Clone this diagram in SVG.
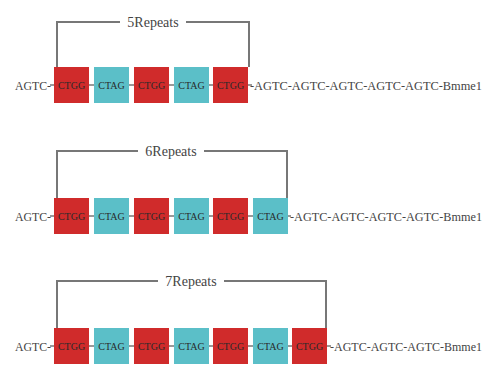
<svg xmlns="http://www.w3.org/2000/svg" width="492" height="368" viewBox="0 0 492 368">
  <style>
    .seq { font-family: "Liberation Serif", serif; font-size: 12.5px; fill: #444; }
    .lbl { font-family: "Liberation Serif", serif; font-size: 14px; fill: #444; text-anchor: middle; }
    .box-t { font-family: "Liberation Serif", serif; font-size: 10px; fill: #2a2a2a; text-anchor: middle; }
    .red { fill: #d02b2b; }
    .blue { fill: #5bbfc8; }
    .br { fill: none; stroke: #777; stroke-width: 2; }
    .link { stroke: #777; stroke-width: 1.5; }
  </style>
  <defs>
    <g id="rbox"><rect class="red" x="0" y="0" width="35" height="36"/><text class="box-t" x="17.5" y="21.5">CTGG</text></g>
    <g id="bbox"><rect class="blue" x="0" y="0" width="35" height="36"/><text class="box-t" x="17.5" y="21.5">CTAG</text></g>
  </defs>

  <!-- brackets and backbone lines -->
  <g id="connectors">
    <polyline class="br" points="57,67 57,22 249,22 249,67"/>
    <polyline class="br" points="57,198 57,151 287,151 287,198"/>
    <polyline class="br" points="57,328 57,281 326,281 326,328"/>
    <line class="link" x1="50" y1="85" x2="252" y2="85"/>
    <line class="link" x1="50" y1="216" x2="291" y2="216"/>
    <line class="link" x1="50" y1="346" x2="331" y2="346"/>
  </g>

  <!-- five repeats -->
  <g id="row5">
    <rect x="120" y="12" width="66" height="20" fill="#fff"/>
    <text class="lbl" x="153" y="27">5Repeats</text>
    <text class="seq" x="15" y="90" textLength="36" lengthAdjust="spacingAndGlyphs">AGTC-</text>
    <use href="#rbox" x="54" y="67"/>
    <use href="#bbox" x="94" y="67"/>
    <use href="#rbox" x="134" y="67"/>
    <use href="#bbox" x="174" y="67"/>
    <use href="#rbox" x="213" y="67"/>
    <text class="seq" x="250" y="90" textLength="232" lengthAdjust="spacingAndGlyphs">-AGTC-AGTC-AGTC-AGTC-AGTC-Bmme1</text>
  </g>

  <!-- six repeats -->
  <g id="row6">
    <rect x="138" y="141" width="66" height="20" fill="#fff"/>
    <text class="lbl" x="171" y="156">6Repeats</text>
    <text class="seq" x="15" y="221" textLength="36" lengthAdjust="spacingAndGlyphs">AGTC-</text>
    <use href="#rbox" x="54" y="198"/>
    <use href="#bbox" x="94" y="198"/>
    <use href="#rbox" x="134" y="198"/>
    <use href="#bbox" x="174" y="198"/>
    <use href="#rbox" x="213" y="198"/>
    <use href="#bbox" x="253" y="198"/>
    <text class="seq" x="290" y="221" textLength="192" lengthAdjust="spacingAndGlyphs">-AGTC-AGTC-AGTC-AGTC-Bmme1</text>
  </g>

  <!-- seven repeats -->
  <g id="row7">
    <rect x="158" y="271" width="66" height="20" fill="#fff"/>
    <text class="lbl" x="191" y="286">7Repeats</text>
    <text class="seq" x="15" y="351" textLength="36" lengthAdjust="spacingAndGlyphs">AGTC-</text>
    <use href="#rbox" x="54" y="328"/>
    <use href="#bbox" x="94" y="328"/>
    <use href="#rbox" x="134" y="328"/>
    <use href="#bbox" x="174" y="328"/>
    <use href="#rbox" x="213" y="328"/>
    <use href="#bbox" x="253" y="328"/>
    <use href="#rbox" x="292" y="328"/>
    <text class="seq" x="330" y="351" textLength="152" lengthAdjust="spacingAndGlyphs">-AGTC-AGTC-AGTC-Bmme1</text>
  </g>
</svg>
